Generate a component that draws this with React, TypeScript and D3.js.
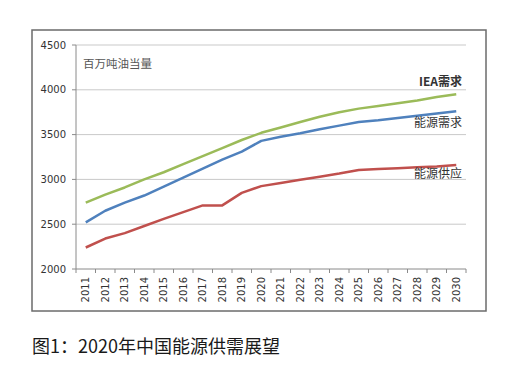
import React from "react";
import * as d3 from "d3";

const years = ["2011","2012","2013","2014","2015","2016","2017","2018","2019","2020","2021","2022","2023","2024","2025","2026","2027","2028","2029","2030"];
const ieaDemand = [2740, 2830, 2910, 3000, 3080, 3170, 3260, 3350, 3440, 3520, 3580, 3640, 3700, 3750, 3790, 3820, 3850, 3880, 3920, 3950];
const energyDemand = [2520, 2650, 2740, 2820, 2920, 3020, 3120, 3220, 3310, 3430, 3475, 3515, 3560, 3600, 3640, 3660, 3685, 3710, 3735, 3760];
const energySupply = [2240, 2340, 2400, 2480, 2560, 2635, 2710, 2710, 2850, 2925, 2960, 2995, 3030, 3065, 3105, 3115, 3125, 3135, 3145, 3160];
const yTicks = [2000, 2500, 3000, 3500, 4000, 4500];
const seriesNames = ["IEA需求", "能源需求", "能源供应"];
const unitLabel = "百万吨油当量";
const caption = "图1：2020年中国能源供需展望";

export default function App() {
  const W = 512, H = 374;
  const left = 76, right = 466, top = 45, bottom = 269;
  const x = d3.scaleBand<string>().domain(years).range([left, right]).padding(0);
  const y = d3.scaleLinear().domain([2000, 4500]).range([bottom, top]);
  const line = d3.line<number>().x((_, i) => (x(years[i]) as number) + x.bandwidth() / 2).y((d) => y(d));
  const series = [
    { name: seriesNames[0], data: ieaDemand, color: "#9bbb59", bold: true },
    { name: seriesNames[1], data: energyDemand, color: "#4f81bd", bold: false },
    { name: seriesNames[2], data: energySupply, color: "#c0504d", bold: false },
  ];
  const labelOffsets = [-12, 11.5, 8.5];
  const axisFont = "'DejaVu Sans', Verdana, sans-serif";
  const cjk = "'Noto Sans CJK SC', sans-serif";
  const boundaries = years.map((yr) => x(yr) as number).concat([right]);
  return (
    <svg width={W} height={H} style={{ position: "absolute", left: 0, top: 0, background: "#fff" }}>
      <rect x={0} y={0} width={W} height={H} fill="#fff" />
      <rect x={32} y={30} width={454} height={281} fill="#fff" stroke="#6b6b6b" strokeWidth={1.5} />
      {yTicks.map((t) => (
        <g key={t}>
          {t !== 2000 && <line x1={left} x2={right} y1={y(t)} y2={y(t)} stroke="#c9c9c9" strokeWidth={1} />}
          <line x1={left - 4} x2={left} y1={y(t)} y2={y(t)} stroke="#8a8a8a" strokeWidth={1} />
          <text x={left - 10} y={y(t)} dy="0.35em" textAnchor="end" fontFamily={axisFont} fontSize={10} fill="#333">{t}</text>
        </g>
      ))}
      <line x1={left} x2={left} y1={top} y2={bottom} stroke="#8a8a8a" strokeWidth={1} />
      <line x1={left} x2={right} y1={bottom} y2={bottom} stroke="#8a8a8a" strokeWidth={1} />
      {boundaries.map((bx, i) => (
        <line key={i} x1={bx} x2={bx} y1={bottom} y2={bottom + 4} stroke="#8a8a8a" strokeWidth={1} />
      ))}
      {years.map((yr) => {
        const cx = (x(yr) as number) + x.bandwidth() / 2;
        return (
          <text key={yr} transform={`translate(${cx},${bottom + 8}) rotate(-90)`} dy="0.35em" textAnchor="end" fontFamily={axisFont} fontSize={10} fill="#333">{yr}</text>
        );
      })}
      <text x={83} y={64} dy="0.35em" fontFamily={cjk} fontSize={11.5} fill="#555">{unitLabel}</text>
      {series.map((s) => (
        <path key={s.name} d={line(s.data) || ""} fill="none" stroke={s.color} strokeWidth={2.5} strokeLinejoin="round" />
      ))}
      {series.map((s, i) => (
        <text key={s.name + "l"} x={462} y={y(s.data[s.data.length - 1]) + labelOffsets[i]} dy="0.35em" textAnchor="end" fontFamily={cjk} fontSize={12} fontWeight={s.bold ? 700 : 400} fill="#333">{s.name}</text>
      ))}
      <text x={32} y={347} dy="0.35em" fontFamily={cjk} fontSize={18} fill="#1a1a1a">{caption}</text>
    </svg>
  );
}
